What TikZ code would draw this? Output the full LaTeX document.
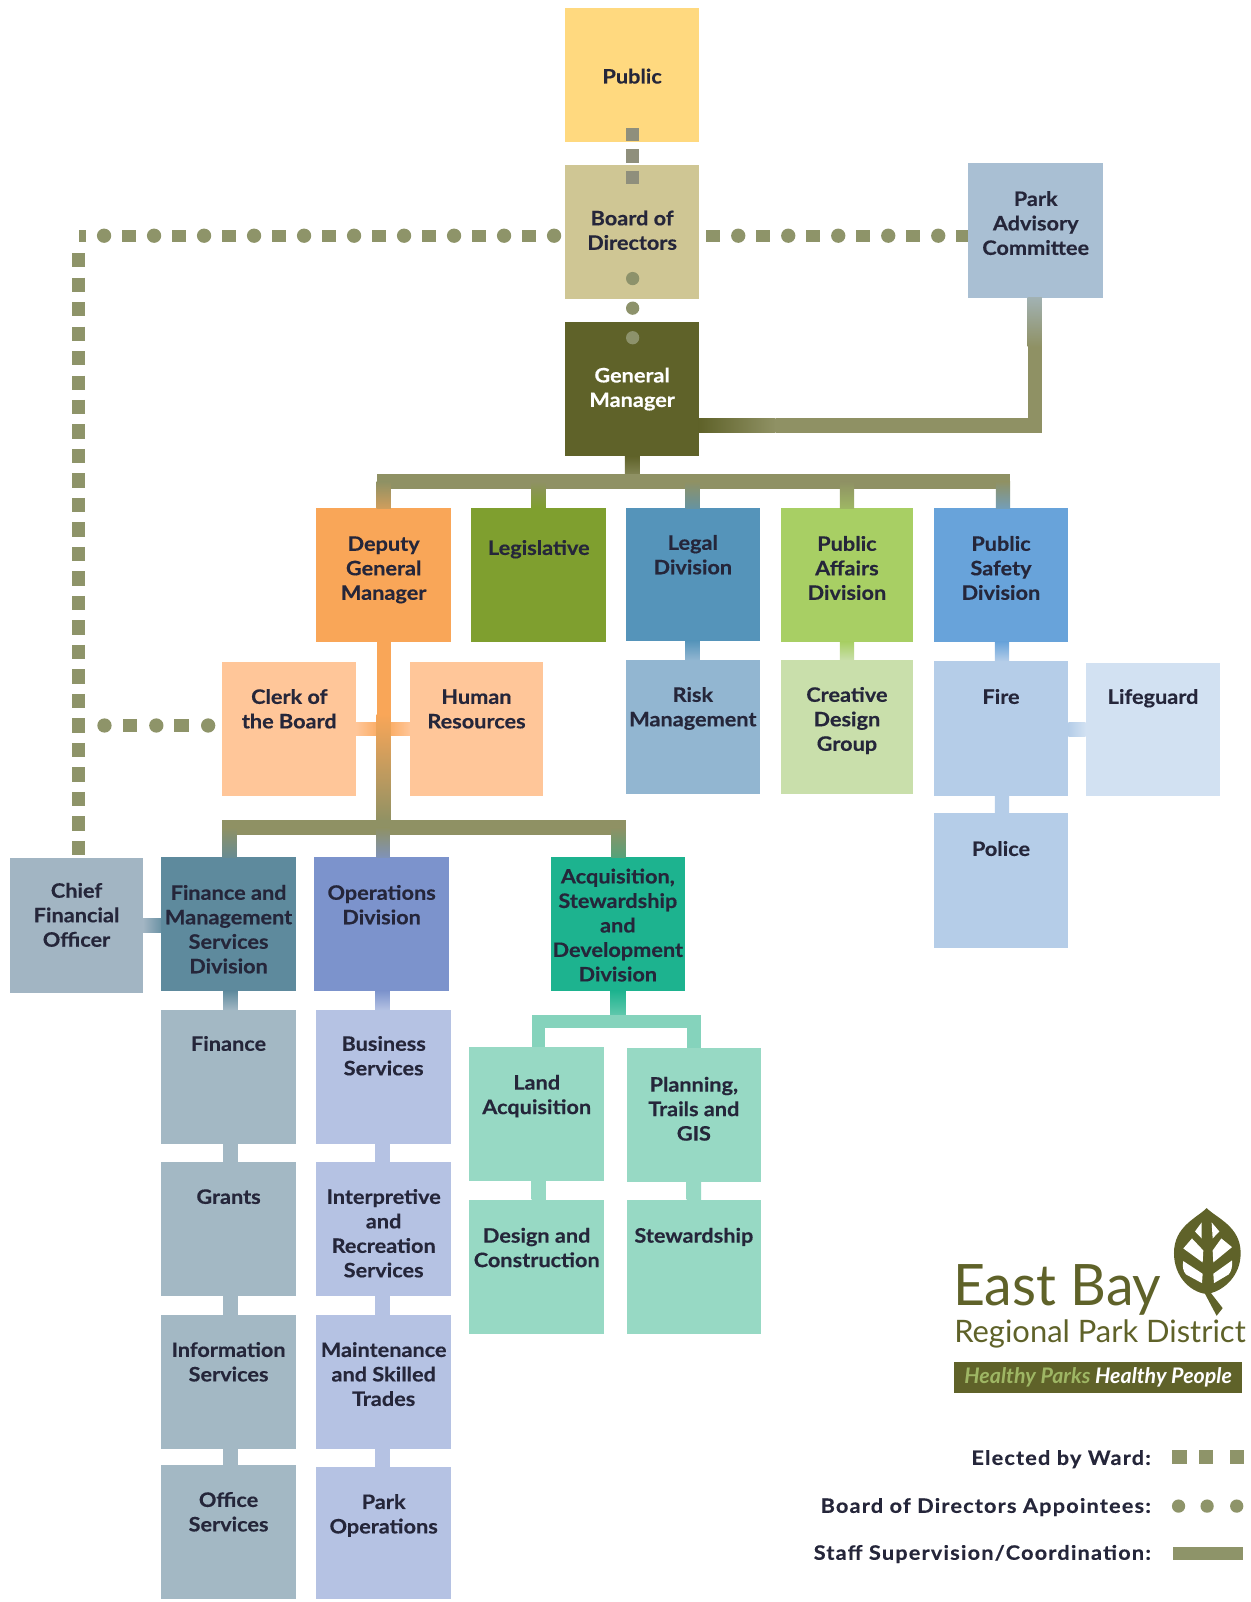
\documentclass[tikz,border=0pt]{standalone}
\usepackage{fontspec}
\setmainfont{Lato}[BoldFeatures={FakeStretch=1.09,FakeBold=0.4}]
\newfontfamily\legf{Lato}[BoldFeatures={FakeStretch=1.09,FakeBold=0.4,LetterSpace=6}]
\newfontfamily\eastf{Lato}[FakeStretch=0.97]
\usetikzlibrary{calc}
\definecolor{txt}{HTML}{25263A}
\definecolor{oli}{HTML}{8F9164}
\definecolor{dark}{HTML}{5F6229}
\definecolor{dotc}{HTML}{8E9469}
\definecolor{sq}{HTML}{8F8F7C}
\definecolor{cPub}{HTML}{FFD97F}
\definecolor{cBoard}{HTML}{CFC694}
\definecolor{cPac}{HTML}{A9BFD3}
\definecolor{cDgm}{HTML}{F9A658}
\definecolor{cLeg}{HTML}{7F9F2F}
\definecolor{cLegal}{HTML}{5594BA}
\definecolor{cAff}{HTML}{A8CF64}
\definecolor{cSaf}{HTML}{68A3DA}
\definecolor{cPeach}{HTML}{FFC699}
\definecolor{cRisk}{HTML}{92B6D1}
\definecolor{cCre}{HTML}{C9DFAB}
\definecolor{cFire}{HTML}{B5CDE8}
\definecolor{cLife}{HTML}{D2E1F2}
\definecolor{cCfo}{HTML}{A2B5C3}
\definecolor{cFm}{HTML}{5E8A9D}
\definecolor{cOps}{HTML}{7C93CC}
\definecolor{cAcq}{HTML}{1DB38F}
\definecolor{cFin}{HTML}{A3B8C4}
\definecolor{cBus}{HTML}{B5C2E3}
\definecolor{cLand}{HTML}{97D9C4}
% \bx{name}{x1}{y1}{x2}{y2}{colour}{centre of first line}{text}
\newcommand\bx[8]{%
  \pgfmathsetmacro\bw{#4-#2}\pgfmathsetmacro\bh{#5-#3}%
  \pgfmathsetmacro\bo{#7-9-#3}%
  \node[boxn,fill=#6] (#1) at ({(#2+#4)/2},{(#3+#5)/2})
   {\parbox[c][\bh pt][t]{\bw pt}{\centering\vspace*{\bo pt}\strut #8}};}
% vertical gradient stub: from, to, half width, colour top, colour bottom
\newcommand\vst[6][]{\path[top color=#5,bottom color=#6,#1] ($(#2)+(-#4,0)$) rectangle ($(#3)+(#4,0)$);}
\tikzset{
  x=1pt,y=-1pt,
  boxn/.style={rectangle,inner sep=0pt,outer sep=0pt,font=\fontsize{19.5}{24}\bfseries,text=txt,draw=none},
  dotline/.style={line width=14pt,line cap=round,dash pattern=on 0pt off 49pt,draw=dotc},
  squline/.style={line width=12pt,dash pattern=on 14pt off 35pt,draw=dotc},
  vdots/.style={line width=12pt,dash pattern=on 14pt off 10pt,draw=dotc},
  leg/.style={font=\legf\fontsize{19.5}{24}\bfseries,text=txt,anchor=east,inner sep=0pt},
  bar/.style={line width=14pt,draw=oli},
  logo/.style={inner sep=0pt,text=dark,anchor=base west},
}
\begin{document}
\begin{tikzpicture}
\useasboundingbox (0,0) rectangle (1226,1570);
\fill[white] (0,0) rectangle (1226,1570);

% coordinates for free connector ends
\coordinate (gmbus) at (620,472);
\coordinate (busL) at (376,472);
\coordinate (busR) at (983,472);
\coordinate (corner) at (77,231);
\coordinate (tapclerk) at (77,711);
\coordinate (dgmbus) at (376,811);
\coordinate (acqbus) at (606,1001);

\bx{pub}{554}{8}{685}{139}{cPub}{74}{Public}
\bx{board}{554}{162}{685}{293}{cBoard}{213}{Board of\\Directors}
\bx{gm}{554}{316}{685}{447}{dark}{367}{\textcolor{white}{General\\Manager}}
\bx{pac}{949}{160}{1081}{292}{cPac}{194}{Park\\Advisory\\Committee}
\bx{dgm}{310}{498}{442}{629}{cDgm}{532}{Deputy\\General\\Manager}
\bx{legis}{462}{498}{594}{629}{cLeg}{536}{Legislative}
\bx{legal}{613}{498}{745}{628}{cLegal}{531}{Legal\\Division}
\bx{aff}{765}{498}{895}{629}{cAff}{532}{Public\\Affairs\\Division}
\bx{saf}{915}{498}{1047}{629}{cSaf}{532}{Public\\Safety\\Division}
\bx{clerk}{218}{649}{349}{780}{cPeach}{682}{Clerk of\\the Board}
\bx{hr}{402}{649}{532}{780}{cPeach}{682}{Human\\Resources}
\bx{risk}{613}{647}{745}{778}{cRisk}{680}{Risk\\Management}
\bx{cre}{765}{647}{895}{778}{cCre}{680}{Creative\\Design\\Group}
\bx{fire}{915}{648}{1047}{780}{cFire}{682}{Fire}
\bx{life}{1064}{650}{1196}{780}{cLife}{682}{Lifeguard}
\bx{pol}{915}{797}{1047}{929}{cFire}{831}{Police}
\bx{cfo}{10}{841}{140}{973}{cCfo}{872}{Chief\\Financial\\Officer}
\bx{fm}{158}{840}{290}{971}{cFm}{874}{Finance and\\Management\\Services\\Division}
\bx{ops}{308}{840}{440}{971}{cOps}{874}{Operations\\Division}
\bx{acq}{540}{840}{671}{971}{cAcq}{858}{Acquisition,\\Stewardship\\and\\Development\\Division}
\bx{fin}{158}{990}{290}{1121}{cFin}{1022}{Finance}
\bx{bus}{310}{990}{442}{1121}{cBus}{1022}{Business\\Services}
\bx{land}{460}{1026}{592}{1157}{cLand}{1060}{Land\\Acquisition}
\bx{plan}{614}{1027}{746}{1158}{cLand}{1062}{Planning,\\Trails and\\GIS}
\bx{gra}{158}{1139}{290}{1270}{cFin}{1172}{Grants}
\bx{int}{310}{1139}{442}{1270}{cBus}{1172}{Interpretive\\and\\Recreation\\Services}
\bx{des}{460}{1176}{592}{1307}{cLand}{1210}{Design and\\Construction}
\bx{ste}{614}{1176}{746}{1307}{cLand}{1210}{Stewardship}
\bx{inf}{158}{1289}{290}{1420}{cFin}{1322}{Information\\Services}
\bx{mai}{310}{1289}{442}{1420}{cBus}{1322}{Maintenance\\and Skilled\\Trades}
\bx{off}{158}{1436}{290}{1567}{cFin}{1469}{Office\\Services}
\bx{par}{310}{1438}{442}{1567}{cBus}{1471}{Park\\Operations}

% ---- staff connectors
\vst{gm.south}{gmbus}{7}{dark}{oli}
\draw[bar,line cap=rect] (busL) -- (busR);
\vst{busL}{dgm.north}{7}{oli}{cDgm!60!oli}
\vst{busL-|legis.north}{legis.north}{7}{oli}{cLeg}
\vst{busL-|legal.north}{legal.north}{7}{oli}{cLegal!70!oli}
\vst{busL-|aff.north}{aff.north}{7}{oli}{cAff!60!oli}
\vst{busR}{busR|-saf.north}{7}{oli}{cSaf!70!oli}
\path[left color=dark,right color=oli] (gm.east|-0,410) rectangle (760,424);
\fill[oli] (760,410) rectangle (1021,424);
\path[top color=cPac!70!oli,bottom color=oli] (1007,292) rectangle (1021,340);
\fill[oli] (1007,340) rectangle (1021,424);

% DGM spine and branches
\path[left color=cPeach,right color=cDgm] (clerk.east|-0,708) rectangle (376,721);
\path[left color=cDgm,right color=cPeach] (376,708) rectangle (hr.west|-0,721);
\fill[cDgm] (369,629) rectangle (383,700);
\path[top color=cDgm,bottom color=oli] (369,700) rectangle (383,806);
\draw[bar] (218,811) -- (613,811);
\vst{225,811}{225,840}{7}{oli}{cFm!80!oli}
\vst{dgmbus}{375,840}{7}{oli}{cOps!80!oli}
\vst{606,811}{606,840}{7}{oli}{cAcq!50!oli}
\path[left color=cCfo,right color=cFm!80!cCfo] (cfo.east|-0,900) rectangle (fm.west|-0,914);

% divisions to their units
\vst{226,971}{226,990}{7}{cFm}{cFin}
\vst{375,971}{375,990}{7}{cOps}{cBus}
\vst{226,1121}{226,1139}{7}{cFin}{cFin}
\vst{226,1270}{226,1289}{7}{cFin}{cFin}
\vst{226,1420}{226,1436}{7}{cFin}{cFin}
\vst{375,1121}{375,1139}{7}{cBus}{cBus}
\vst{375,1270}{375,1289}{7}{cBus}{cBus}
\vst{375,1420}{375,1438}{7}{cBus}{cBus}
\vst{acq.south}{acqbus}{7}{cAcq}{cLand!70!cAcq}
\draw[line width=13pt,draw=cLand!85!cAcq] (528,1026) -- (528,1001) -- (680,1001) -- (680,1027);
\vst{528,1157}{528,1176}{7}{cLand}{cLand}
\vst{680,1158}{680,1176}{7}{cLand}{cLand}
\vst{679,628}{679,647}{7}{cLegal}{cRisk}
\vst{830,629}{830,647}{7}{cAff}{cCre}
\vst{982,629}{982,648}{7}{cSaf}{cFire}
\vst{982,780}{982,797}{7}{cFire}{cFire}
\path[left color=cFire,right color=cLife] (fire.east|-0,708) rectangle (life.west|-0,722);

% ---- dotted connectors
\draw[line width=13pt,dash pattern=on 13pt off 8pt,draw=sq] (620,125.5) -- (620,182);
\draw[line width=13pt,line cap=round,dash pattern=on 0pt off 29pt,draw=dotc!90!gray] (620,273) -- (620,340);

\coordinate (bw) at (543,231);
\coordinate (be) at (723.5,231);
\draw[dotline] (bw) -- (corner|-bw);
\draw[squline] (525.5,231) -- (corner|-bw);
\draw[dotline] (be) -- (pac.west|-bw);
\draw[squline] (692,231) -- (pac.west|-bw);
\draw[vdots] (77,248) -- (77,838);
\draw[line width=14pt,line cap=round,dash pattern=on 0pt off 50.8pt,draw=dotc] (204,711) -- (tapclerk);
\draw[line width=12pt,dash pattern=on 14pt off 36.8pt,draw=dotc] (185,711) -- (tapclerk);

% ---- logo
\node[logo,font=\eastf\fontsize{56}{60}\selectfont] (east) at (934,1279) {East Bay};
\node[logo,font=\fontsize{30.3}{34}\selectfont] (rpd) at (935,1316) {Regional Park District};
\node[rectangle,fill=dark,minimum width=282pt,minimum height=30pt,inner sep=0pt,anchor=north west,font=\fontsize{21}{24}\itshape\bfseries] (tag) at (935,1335) {\textcolor{cAff!60!oli}{Healthy Parks}\ \textcolor{white}{Healthy People}};
\begin{scope}[shift={(1127,1166)},x=.3267pt,y=-.3267pt]
\fill[dark] (170,55) .. controls (200,85) and (272,110) .. (272,190)
  .. controls (272,260) and (220,300) .. (183,310) -- (218,355) -- (200,378) -- (165,312)
  .. controls (120,305) and (72,260) .. (72,190)
  .. controls (72,110) and (140,85) .. (170,55) -- cycle;
\fill[white] (155,98) -- (135,125) -- (155,146) -- cycle;
\fill[white] (185,98) -- (208,125) -- (188,146) -- cycle;
\fill[white] (126,146) -- (160,182) -- (158,218) -- (100,176) -- cycle;
\fill[white] (214,146) -- (246,172) -- (190,218) -- (188,182) -- cycle;
\fill[white] (100,214) -- (158,252) -- (156,280) -- (108,254) .. controls (100,245) and (96,230) .. (100,214) -- cycle;
\fill[white] (246,212) -- (190,252) -- (192,280) -- (236,254) .. controls (244,245) and (248,230) .. (246,212) -- cycle;
\end{scope}

% ---- legend
\node[leg] (l1) at (1128,1430) {Elected by Ward:};
\node[leg] (l2) at (1128,1477) {Board of Directors Appointees:};
\node[leg] (l3) at (1128,1523) {Staff Supervision/Coordination:};
\foreach \x in {1156,1182,1212}{\fill[dotc] ($(\x,1428)+(-7,-7)$) rectangle ($(\x,1428)+(7,7)$);}
\foreach \x in {1155,1183,1212}{\fill[dotc] (\x,1476) circle (6.5);}
\fill[dotc] (1150,1516) rectangle (1218,1529);
\end{tikzpicture}
\end{document}
